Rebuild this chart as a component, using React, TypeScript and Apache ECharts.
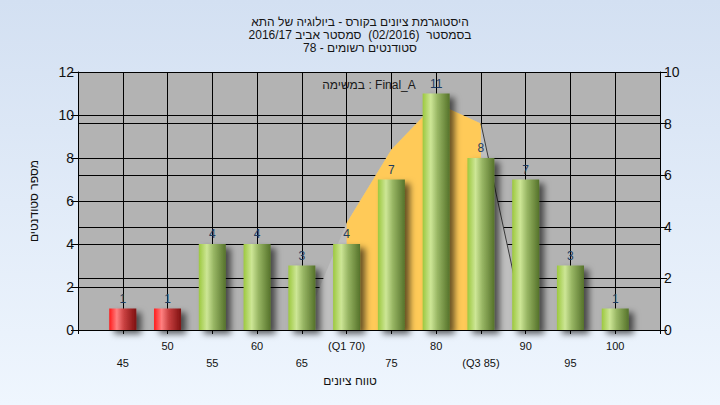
import React, { useEffect, useRef } from 'react';
import * as echarts from 'echarts';

const titleLines = [
  'היסטוגרמת ציונים בקורס - ביולוגיה של התא',
  'בסמסטר  (02/2016)  סמסטר אביב 2016/17',
  'סטודנטים רשומים - 78',
];
const taskLabel = 'במשימה : Final_A';
const xAxisTitle = 'טווח ציונים';
const yAxisTitle = 'מספר סטודנטים';

const scores = [45, 50, 55, 60, 65, 70, 75, 80, 85, 90, 95, 100];
const counts = [1, 1, 4, 4, 3, 4, 7, 11, 8, 7, 3, 1];
const barKinds = ['fail', 'fail', 'pass', 'pass', 'pass', 'pass', 'pass', 'pass', 'pass', 'pass', 'pass', 'pass'];
const xTickLabels = ['45', '50', '55', '60', '65', '(Q1 70)', '75', '80', '(Q3 85)', '90', '95', '100'];

const curveScores = [65, 70, 75, 80, 85, 90];
const curveValues = [0, 4.15, 7, 8.8, 8, 0];
const q1 = 70;
const q3 = 85;

const FONT = '"Liberation Sans", "DejaVu Sans", Arial, sans-serif';

const greenGrad = () =>
  new echarts.graphic.LinearGradient(0, 0, 1, 0, [
    { offset: 0, color: '#9cc83e' },
    { offset: 0.3, color: '#cde696' },
    { offset: 0.55, color: '#98b664' },
    { offset: 1, color: '#55722a' },
  ]);
const redGrad = () =>
  new echarts.graphic.LinearGradient(0, 0, 1, 0, [
    { offset: 0, color: '#ff1a1a' },
    { offset: 0.28, color: '#ff8080' },
    { offset: 0.55, color: '#c84040' },
    { offset: 1, color: '#7e1010' },
  ]);

export default function App() {
  const ref = useRef<HTMLDivElement>(null);
  useEffect(() => {
    if (!ref.current) return;
    const chart = echarts.init(ref.current, undefined, { renderer: 'svg' });
    const curveData = curveScores.map((x, i) => [x, curveValues[i]]);
    const iqrData = curveData.filter((p) => p[0] >= q1 && p[0] <= q3);
    const tailData = curveData.filter((p) => p[0] >= q3);
    chart.setOption({
      animation: false,
      backgroundColor: new echarts.graphic.LinearGradient(0, 0, 0, 1, [
        { offset: 0, color: '#d3e0f2' },
        { offset: 1, color: '#eff6fe' },
      ]),
      textStyle: { fontFamily: FONT },
      title: {
        text: titleLines.join('\n'),
        left: 'center',
        top: 10,
        textStyle: { fontSize: 12, fontWeight: 'normal', lineHeight: 13, color: '#151515', fontFamily: FONT },
      },
      grid: { left: 78, right: 60, top: 72, bottom: 75, show: true, backgroundColor: '#b3b3b3', borderWidth: 0 },
      xAxis: {
        type: 'value',
        min: 40,
        max: 105,
        interval: 5,
        axisLine: { show: true, lineStyle: { color: '#000', width: 1 } },
        axisTick: { show: true, length: 4, lineStyle: { color: '#000' } },
        splitLine: { show: true, lineStyle: { color: '#000', width: 1 } },
        axisLabel: {
          margin: 7,
          fontSize: 11,
          lineHeight: 17,
          color: '#111',
          fontFamily: FONT,
          formatter: (v: number) => {
            const i = scores.indexOf(v);
            if (i < 0) return '';
            return i % 2 === 0 ? '\n' + xTickLabels[i] : xTickLabels[i];
          },
        },
      },
      yAxis: [
        {
          type: 'value',
          min: 0,
          max: 12,
          interval: 2,
          name: yAxisTitle,
          nameLocation: 'middle',
          nameGap: 38,
          nameTextStyle: { fontSize: 12, color: '#111', fontFamily: FONT },
          axisLine: { show: true, lineStyle: { color: '#000' } },
          axisTick: { show: true, length: 7, lineStyle: { color: '#000' } },
          splitLine: { show: true, lineStyle: { color: '#000', width: 1 } },
          axisLabel: { fontSize: 14, color: '#111', margin: 4, fontFamily: FONT },
        },
        {
          type: 'value',
          min: 0,
          max: 10,
          interval: 2,
          position: 'right',
          axisLine: { show: true, lineStyle: { color: '#000' } },
          axisTick: { show: true, length: 7, lineStyle: { color: '#000' } },
          splitLine: { show: true, lineStyle: { color: '#000', width: 1 } },
          axisLabel: { fontSize: 14, color: '#111', margin: 4, fontFamily: FONT },
        },
      ],
      graphic: [
        {
          type: 'text',
          x: 369,
          y: 85,
          style: { text: taskLabel, fontSize: 12, fill: '#1a1a1a', align: 'center', verticalAlign: 'middle', fontFamily: FONT },
          z: 100,
        },
        {
          type: 'text',
          x: 350,
          y: 381,
          style: { text: xAxisTitle, fontSize: 12, fill: '#111', align: 'center', verticalAlign: 'middle', fontFamily: FONT },
        },
      ],
      series: [
        {
          type: 'line',
          yAxisIndex: 1,
          data: curveData,
          symbol: 'none',
          lineStyle: { width: 0 },
          areaStyle: { color: '#bfbfbf', opacity: 1 },
          z: 1,
          silent: true,
        },
        {
          type: 'line',
          yAxisIndex: 1,
          data: iqrData,
          symbol: 'none',
          lineStyle: { width: 0 },
          areaStyle: { color: '#ffca58', opacity: 1 },
          z: 2,
          silent: true,
        },
        {
          type: 'line',
          yAxisIndex: 1,
          data: tailData,
          symbol: 'none',
          lineStyle: { width: 1, color: '#3a3a3a' },
          z: 3,
          silent: true,
        },
        {
          type: 'bar',
          yAxisIndex: 0,
          barWidth: 27,
          z: 5,
          data: scores.map((s, i) => ({
            value: [s, counts[i]],
            itemStyle: {
              color: barKinds[i] === 'fail' ? redGrad() : greenGrad(),
              shadowColor: 'rgba(0,0,0,0.6)',
              shadowBlur: 6,
              shadowOffsetX: 5,
              shadowOffsetY: 4,
            },
          })),
          label: {
            show: true,
            position: 'top',
            distance: 4,
            fontSize: 12,
            color: '#1d3c60',
            fontFamily: FONT,
            formatter: (p: any) => String(p.value[1]),
          },
        },
      ],
    });
    return () => chart.dispose();
  }, []);
  return <div ref={ref} style={{ position: 'absolute', left: 0, top: 0, width: 720, height: 405 }} />;
}
